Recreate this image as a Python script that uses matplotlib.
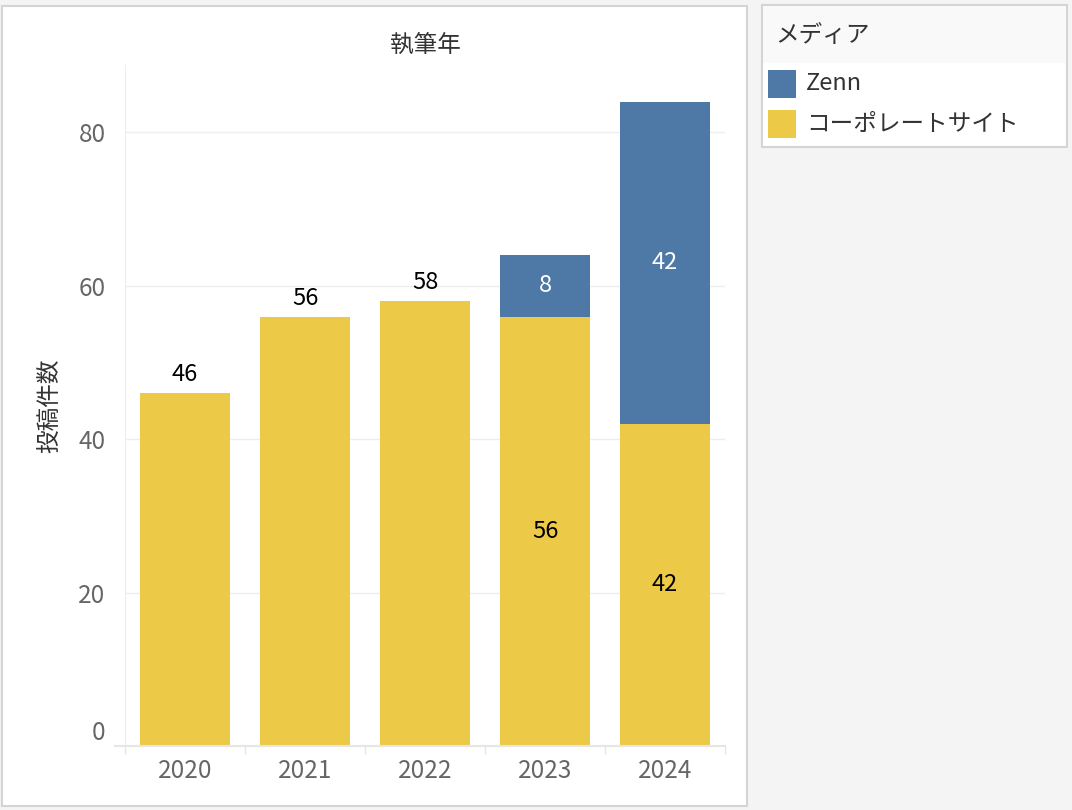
import matplotlib
matplotlib.use("Agg")
import matplotlib.pyplot as plt
from matplotlib.patches import Rectangle

plt.rcParams['font.family'] = ['Noto Sans CJK JP', 'DejaVu Sans']

# data
years = ['2020', '2021', '2022', '2023', '2024']
corporate = [46, 56, 58, 56, 42]
zenn = [0, 0, 0, 8, 42]
series_names = ['Zenn', 'コーポレートサイト']
y_ticks = [0, 20, 40, 60, 80]

BLUE = '#4e79a7'
YELLOW = '#edc948'
W, H = 1072, 810


def px(x0, y0, x1, y1):
    '''pixel box (top-left origin) -> figure fraction [l, b, w, h]'''
    return [x0 / W, 1 - y1 / H, (x1 - x0) / W, (y1 - y0) / H]


fig = plt.figure(figsize=(W / 100, H / 100), dpi=100, facecolor='#f4f4f4')

# white chart panel
fig.patches.append(Rectangle((2 / W, 1 - 806 / H), 745 / W, 800 / H, transform=fig.transFigure,
                             facecolor='white', edgecolor='#d4d4d4', lw=1.5, zorder=-5))

ax = fig.add_axes(px(125, 65, 725, 746))
ax.set_zorder(2)
ax.set_facecolor('none')
x = list(range(len(years)))
ax.bar(x, corporate, width=0.75, color=YELLOW, zorder=2)
ax.bar(x, zenn, width=0.75, bottom=corporate, color=BLUE, zorder=2)

for i in x:
    if zenn[i] == 0:
        ax.text(i, corporate[i] + 0.9, str(corporate[i]), ha='center', va='bottom',
                fontsize=17, color='black')
    else:
        ax.text(i, corporate[i] / 2, str(corporate[i]), ha='center', va='center',
                fontsize=17, color='black')
        ax.text(i, corporate[i] + zenn[i] / 2, str(zenn[i]), ha='center', va='center',
                fontsize=17, color='white')

ax.set_xlim(-0.5, len(years) - 0.5)
ax.set_ylim(0, 88.8)
ax.set_yticks(y_ticks)
ax.set_yticklabels([str(v) for v in y_ticks])
ax.tick_params(axis='y', length=0, pad=14, labelsize=17.5, labelcolor='#666666')
ax.get_yticklabels()[0].set_verticalalignment('bottom')
ax.set_xticks([i - 0.5 for i in range(len(years) + 1)], minor=True)
ax.set_xticks(x)
ax.set_xticklabels(years)
ax.tick_params(axis='x', which='major', length=0, pad=9, labelsize=17.5, labelcolor='#666666')
ax.tick_params(axis='x', which='minor', length=6, color='#e6e6e6', width=1)
ax.grid(axis='y', color='#eeeeee', lw=1, zorder=0)
for s in ['top', 'right', 'bottom']:
    ax.spines[s].set_visible(False)
ax.spines['left'].set_color('#eeeeee')
ax.axhline(0, xmin=-10 / 600, xmax=1, color='#e6e6e6', lw=1.5, clip_on=False, zorder=3)

ax.set_ylabel('投稿件数', fontsize=17, color='#333333', labelpad=12)
fig.text(425 / W, 1 - 45 / H, '執筆年', ha='center', va='center', fontsize=17, color='#333333')

# legend panel
fig.patches.append(Rectangle((762 / W, 1 - 147 / H), 305 / W, 142 / H, transform=fig.transFigure,
                             facecolor='white', edgecolor='#d4d4d4', lw=1.5, zorder=-5))
fig.patches.append(Rectangle((763 / W, 1 - 63 / H), 303 / W, 57 / H, transform=fig.transFigure,
                             facecolor='#f9f9f9', edgecolor='none', zorder=-4))
fig.text(775 / W, 1 - 35 / H, 'メディア', ha='left', va='center', fontsize=17, color='#333333')
for name, col, yc in zip(series_names, [BLUE, YELLOW], [84, 124]):
    fig.patches.append(Rectangle((768 / W, 1 - (yc + 14) / H), 28 / W, 28 / H,
                                 transform=fig.transFigure, facecolor=col, edgecolor='none', zorder=2))
    fig.text(806 / W, 1 - yc / H, name, ha='left', va='center', fontsize=17, color='#333333')

fig.savefig('out.png', dpi=100, facecolor=fig.get_facecolor())
